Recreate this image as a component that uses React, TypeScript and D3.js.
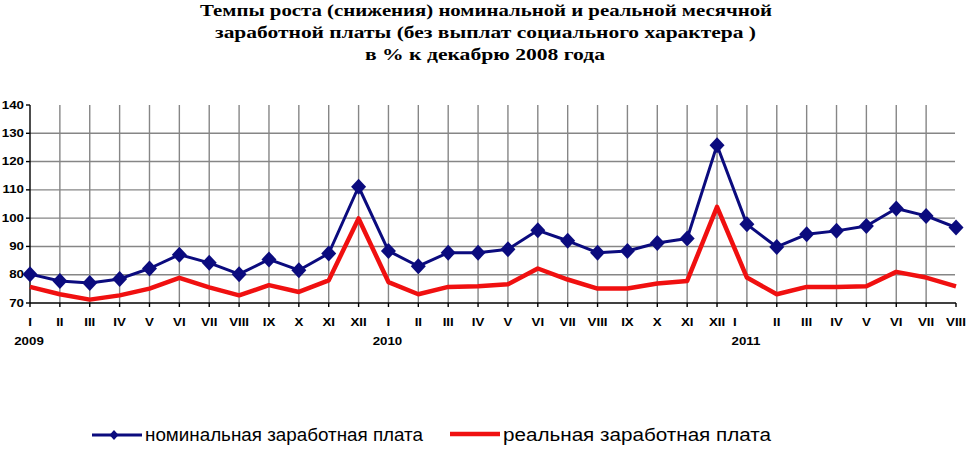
import React from "react";
import * as d3 from "d3";

const months = [
  "I","II","III","IV","V","VI","VII","VIII","IX","X","XI","XII",
  "I","II","III","IV","V","VI","VII","VIII","IX","X","XI","XII",
  "I","II","III","IV","V","VI","VII","VIII",
];
const years = ["2009", "2010", "2011"];
const yearIndex = [0, 12, 24];

const nominal = [
  80.2, 77.8, 77.1, 78.5, 82.2, 87.1, 84.2, 80.2, 85.4, 81.6, 87.5, 111.1,
  88.4, 83.0, 87.8, 87.8, 89.0, 95.7, 92.0, 87.8, 88.4, 91.2, 92.8, 125.8,
  97.8, 89.8, 94.3, 95.5, 97.2, 103.4, 100.8, 96.7,
];
const real = [
  75.7, 73.1, 71.2, 72.7, 75.1, 78.9, 75.5, 72.7, 76.3, 73.9, 78.0, 99.9,
  77.4, 73.1, 75.7, 75.9, 76.6, 82.2, 78.3, 75.1, 75.1, 76.9, 77.8, 104.0,
  79.0, 73.1, 75.7, 75.7, 75.9, 81.0, 79.0, 75.9,
];
const yTicks = [70, 80, 90, 100, 110, 120, 130, 140];

const titleLines = [
  "Темпы роста (снижения) номинальной и реальной месячной",
  "заработной платы (без выплат социального характера )",
  "в  % к декабрю 2008 года",
];
const legendLabels = ["номинальная заработная плата", "реальная заработная плата"];

const W = 966;
const H = 457;
const BLUE = "#0b0b7e";
const RED = "#f01010";
const GRID = "#868686";

export default function App() {
  const idx = months.map((_, i) => i);
  const x = d3.scalePoint<number>().domain(idx).range([30, 956]);
  const y = d3.scaleLinear().domain([70, 140]).range([303, 105]);
  const line = d3
    .line<number>()
    .x((_, i) => x(i) as number)
    .y((d) => y(d));

  const diamond = "M0,-8L7.5,0L0,8L-7.5,0Z";
  const sx = 1.33;
  const tickFont = { fontFamily: "'Liberation Sans', Arial, sans-serif", fontWeight: 700, fontSize: 10 } as const;

  const titleSpans = [
    { x1: 200, x2: 772, y: 16 },
    { x1: 215, x2: 756, y: 38 },
    { x1: 365, x2: 605, y: 60 },
  ];

  return (
    <svg
      width={W}
      height={H}
      style={{ position: "absolute", left: 0, top: 0, background: "#fff" }}
    >
      <rect x={0} y={0} width={W} height={H} fill="#fff" />
      {titleLines.map((t, i) => (
        <text
          key={"t" + i}
          x={titleSpans[i].x1}
          y={titleSpans[i].y}
          textLength={titleSpans[i].x2 - titleSpans[i].x1}
          lengthAdjust="spacingAndGlyphs"
          style={{ fontFamily: "'Liberation Serif', 'Times New Roman', serif", fontWeight: 700, fontSize: 16 }}
          fill="#000"
        >
          {t}
        </text>
      ))}
      {yTicks
        .filter((v) => v !== 70 && v !== 140)
        .map((v) => (
          <line key={"h" + v} x1={30} x2={955} y1={y(v)} y2={y(v)} stroke={GRID} strokeWidth={1.4} />
        ))}
      {idx
        .filter((i) => i > 0 && i < months.length - 1)
        .map((i) => (
          <line key={"v" + i} x1={x(i)} x2={x(i)} y1={y(140)} y2={y(70)} stroke={GRID} strokeWidth={1.4} />
        ))}
      <line x1={30} x2={30} y1={y(140)} y2={y(70)} stroke="#000" strokeWidth={1.4} />
      <line x1={30} x2={956} y1={y(70)} y2={y(70)} stroke="#000" strokeWidth={1.4} />
      {yTicks.map((v) => (
        <g key={"yt" + v}>
          <line x1={26} x2={30} y1={y(v)} y2={y(v)} stroke="#000" strokeWidth={1.4} />
          <g transform={`translate(24,${y(v) + 3.6}) scale(${sx},1)`}>
            <text textAnchor="end" style={tickFont}>
              {v}
            </text>
          </g>
        </g>
      ))}
      {idx.map((i) => (
        <g key={"xt" + i}>
          <line x1={x(i)} x2={x(i)} y1={y(70)} y2={y(70) + 4} stroke="#000" strokeWidth={1.4} />
          <g transform={`translate(${(x(i) as number) + (i === 24 ? -12 : 0)},326) scale(${sx},1)`}>
            <text textAnchor="middle" style={tickFont}>
              {months[i]}
            </text>
          </g>
        </g>
      ))}
      {years.map((yr, k) => (
        <g key={"yr" + yr} transform={`translate(${(x(yearIndex[k]) as number) - 1},345) scale(${sx},1)`}>
          <text textAnchor="middle" style={tickFont}>
            {yr}
          </text>
        </g>
      ))}
      <path d={line(nominal) || ""} fill="none" stroke={BLUE} strokeWidth={3} strokeLinejoin="round" />
      {nominal.map((v, i) => (
        <path key={"d" + i} d={diamond} transform={`translate(${x(i)},${y(v)})`} fill={BLUE} />
      ))}
      <path d={line(real) || ""} fill="none" stroke={RED} strokeWidth={4.5} strokeLinejoin="round" />
      <line x1={92} x2={142} y1={435} y2={435} stroke={BLUE} strokeWidth={3} />
      <path d="M0,-5L4.5,0L0,5L-4.5,0Z" transform="translate(114,435)" fill={BLUE} />
      <text
        x={145}
        y={441}
        textLength={278}
        lengthAdjust="spacingAndGlyphs"
        style={{ fontFamily: "'Liberation Sans', Arial, sans-serif", fontSize: 17.5 }}
        fill="#000"
      >
        {legendLabels[0]}
      </text>
      <line x1={450} x2={500} y1={434} y2={434} stroke={RED} strokeWidth={4.5} />
      <text
        x={503}
        y={441}
        textLength={268}
        lengthAdjust="spacingAndGlyphs"
        style={{ fontFamily: "'Liberation Sans', Arial, sans-serif", fontSize: 17.5 }}
        fill="#000"
      >
        {legendLabels[1]}
      </text>
    </svg>
  );
}
